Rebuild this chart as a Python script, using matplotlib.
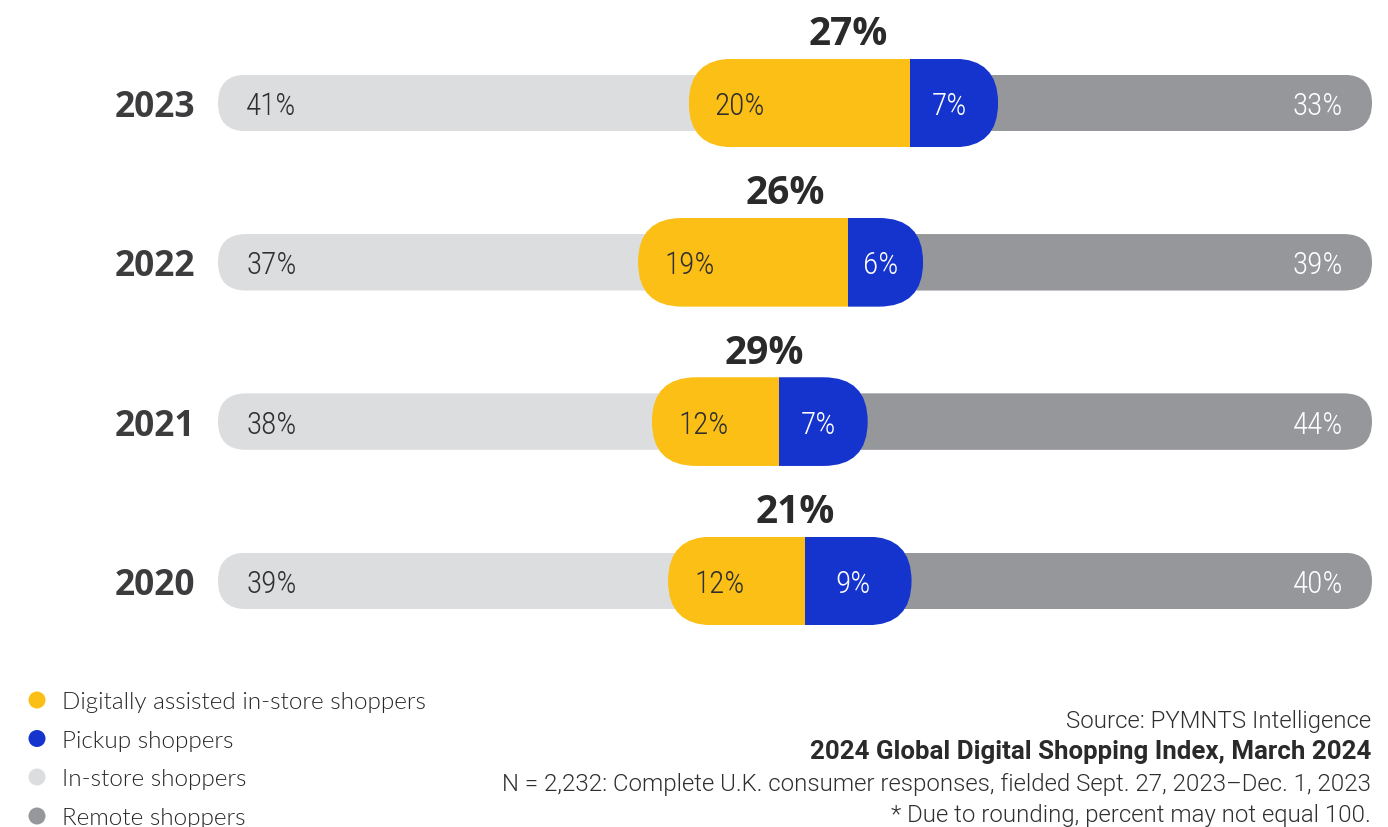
import matplotlib
matplotlib.use("Agg")
import matplotlib.pyplot as plt
from matplotlib.patches import FancyBboxPatch

# ---------------- data ----------------
years = ["2023", "2022", "2021", "2020"]
instore = [40.8, 36.4, 37.6, 39.0]      # In-store shoppers (bar share)
digital = [19.2, 18.2, 11.0, 11.9]      # Digitally assisted in-store shoppers
pickup = [7.6, 6.5, 7.7, 9.2]           # Pickup shoppers
remote = [32.4, 38.9, 43.7, 39.9]       # Remote shoppers
instore_labels = ["41%", "37%", "38%", "39%"]
digital_labels = ["20%", "19%", "12%", "12%"]
pickup_labels = ["7%", "6%", "7%", "9%"]
remote_labels = ["33%", "39%", "44%", "40%"]
total_labels = ["27%", "26%", "29%", "21%"]

legend_labels = ["Digitally assisted in-store shoppers", "Pickup shoppers",
                 "In-store shoppers", "Remote shoppers"]
source_lines = ["Source: PYMNTS Intelligence",
                "2024 Global Digital Shopping Index, March 2024",
                "N = 2,232: Complete U.K. consumer responses, fielded Sept. 27, 2023\u2013Dec. 1, 2023",
                "* Due to rounding, percent may not equal 100."]

# ---------------- style ----------------
YELLOW = "#FBBF15"
BLUE = "#1534CE"
LIGHT = "#DCDDDF"
DARK = "#96979B"
TXT = "#2f2f2f"

W, H = 1388, 827
fig = plt.figure(figsize=(W / 100, H / 100), dpi=100)
fig.patch.set_facecolor("white")

x0_px, x1_px = 218, 1372
row0_px, step_px = 103, 159.3
ax = fig.add_axes([x0_px / W, 0, (x1_px - x0_px) / W, 1])
ax.set_xlim(0, 100)
ax.set_ylim((H - row0_px) / step_px, -row0_px / step_px)
ax.axis("off")

sx = (x1_px - x0_px) / 100.0   # px per x unit
sy = step_px                   # px per y unit
track_h = 56.5 / sy
pill_h = 88.7 / sy


def rounded(x, y, w, h_units, r_px):
    return FancyBboxPatch((x, y - h_units / 2), w, h_units,
                          boxstyle=f"round,pad=0,rounding_size={r_px / sx}",
                          mutation_aspect=sx / sy, transform=ax.transData,
                          facecolor="none", edgecolor="none")


ys = list(range(len(years)))
left_light = [0] * len(years)
w_light = [a + b for a, b in zip(instore, digital)]
w_dark = [b + c for b, c in zip(pickup, remote)]
pill_left = instore
blue_left = [a + b for a, b in zip(instore, digital)]
pill_w = [b + c for b, c in zip(digital, pickup)]

light_bars = ax.barh(ys, w_light, left=left_light, height=track_h, color=LIGHT, zorder=1)
dark_bars = ax.barh(ys, w_dark, left=w_light, height=track_h, color=DARK, zorder=1)
yel_bars = ax.barh(ys, digital, left=pill_left, height=pill_h, color=YELLOW, zorder=3)
blue_bars = ax.barh(ys, pickup, left=blue_left, height=pill_h, color=BLUE, zorder=3)

for i in ys:
    tp = rounded(0, i, 100, track_h, 28.25)
    ax.add_patch(tp)
    light_bars[i].set_clip_path(tp)
    dark_bars[i].set_clip_path(tp)
    pp = rounded(pill_left[i], i, pill_w[i], pill_h, 44.35)
    ax.add_patch(pp)
    yel_bars[i].set_clip_path(pp)
    blue_bars[i].set_clip_path(pp)

LBL = dict(family="Roboto Condensed", fontweight=300, fontsize=22.5)
for i in ys:
    base = i + 12 / sy
    ax.text(28 / sx, base, instore_labels[i], ha="left", va="baseline", color=TXT, zorder=5, **LBL)
    ax.text(100 - 29 / sx, base, remote_labels[i], ha="right", va="baseline", color="white", zorder=5, **LBL)
    ax.text(instore[i] + 26 / sx, base, digital_labels[i], ha="left", va="baseline", color=TXT, zorder=5, **LBL)
    ax.text(blue_left[i] + pickup[i] / 2 - 5 / sx, base, pickup_labels[i], ha="center", va="baseline",
            color="white", zorder=5, **LBL)
    ax.text(pill_left[i] + pill_w[i] / 2 + 5 / sx, i - 58 / sy, total_labels[i], ha="center",
            va="baseline", color="#2a2a2a", family="Open Sans", fontweight="bold", fontsize=28, zorder=5)
    ax.text(-23 / sx, i + 14 / sy, years[i], ha="right", va="baseline", color="#3c3c3e",
            family="Open Sans", fontweight="bold", fontsize=25.5, zorder=5)

# ---------------- legend & source (pixel overlay) ----------------
ov = fig.add_axes([0, 0, 1, 1], zorder=10)
ov.set_xlim(0, W)
ov.set_ylim(H, 0)
ov.axis("off")
ov.patch.set_alpha(0)

leg_colors = [YELLOW, BLUE, LIGHT, DARK]
leg_y = [700, 738.5, 777, 816]
ov.scatter([37] * 4, leg_y, s=150, c=leg_colors, linewidths=0, clip_on=False)
for lab, yy in zip(legend_labels, leg_y):
    ov.text(62, yy + 9, lab, ha="left", va="baseline", color="#262626",
            family="Lato", fontweight=300, fontsize=17.5)

src_base = [728, 759.5, 791, 822]
for k, (line, yy) in enumerate(zip(source_lines, src_base)):
    ov.text(1371, yy, line, ha="right", va="baseline", color=TXT if k != 1 else "#2a2a2a",
            family="Roboto", fontweight=700 if k == 1 else 300,
            fontsize=18.6 if k == 1 else 17.3)

fig.savefig("out.png", dpi=100, facecolor="white")
